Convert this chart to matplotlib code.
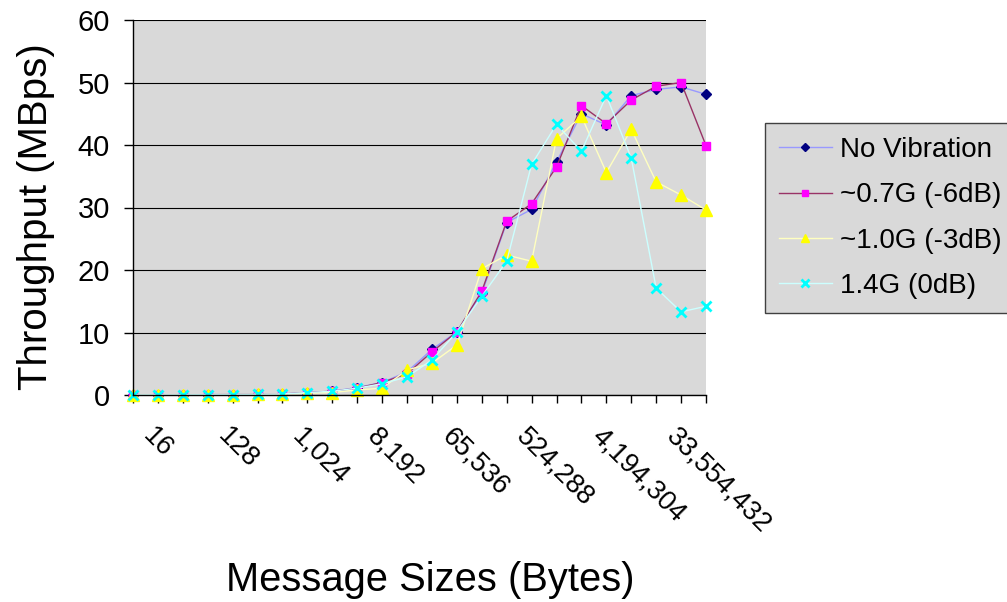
import matplotlib.pyplot as plt
from matplotlib.transforms import ScaledTranslation

plt.rcParams['font.family'] = ['Liberation Sans', 'DejaVu Sans']

# message sizes in bytes (one category per power of two)
msg_sizes = [16, 32, 64, 128, 256, 512, 1024, 2048, 4096, 8192, 16384, 32768,
             65536, 131072, 262144, 524288, 1048576, 2097152, 4194304,
             8388608, 16777216, 33554432, 67108864, 134217728]

# throughput in MBps for each vibration level
no_vib = [0.01, 0.02, 0.03, 0.05, 0.07, 0.1, 0.15, 0.4, 0.6, 1.2, 2.0, 3.7,
          7.3, 10.1, 16.3, 27.6, 29.7, 37.3, 45.0, 43.2, 47.9, 48.9, 49.3, 48.1]
g07 = [0.01, 0.02, 0.03, 0.05, 0.07, 0.1, 0.15, 0.4, 0.6, 1.1, 2.0, 3.4,
       6.9, 10.1, 16.6, 27.8, 30.6, 36.5, 46.3, 43.4, 47.2, 49.4, 50.0, 39.9]
g10 = [0.01, 0.02, 0.03, 0.05, 0.07, 0.1, 0.12, 0.3, 0.4, 0.8, 1.1, 4.0,
       5.1, 8.0, 20.2, 22.4, 21.4, 41.0, 44.6, 35.6, 42.5, 34.1, 32.0, 29.6]
g14 = [0.01, 0.02, 0.03, 0.05, 0.07, 0.1, 0.15, 0.4, 0.6, 1.1, 1.8, 2.9,
       5.6, 10.1, 15.8, 21.4, 36.9, 43.3, 39.0, 47.9, 37.9, 17.1, 13.3, 14.2]

series = [
    ('No Vibration', no_vib, '#9999FF', '#000080', 'D', 5.2),
    ('~0.7G (-6dB)', g07, '#993366', '#FF00FF', 's', 6.3),
    ('~1.0G (-3dB)', g10, '#FFFFC0', '#FFFF00', '^', 8),
    ('1.4G (0dB)', g14, '#CCFFFF', '#00FFFF', 'x', 7),
]

fig = plt.figure(figsize=(10.07, 6.02), dpi=100)
ax = fig.add_axes([133/1007, 1 - 395/602, 573/1007, 375/602])
ax.set_facecolor('#D9D9D9')

x = list(range(len(msg_sizes)))
for name, vals, lc, mc, m, ms in series:
    ax.plot(x, vals, color=lc, lw=1.0, marker=m, ms=ms, mfc=mc, mec=mc,
            mew=2 if m == 'x' else 1, label=name, clip_on=False)

ax.set_xlim(0, len(msg_sizes) - 1)
ax.set_ylim(0, 60)
ax.set_yticks(range(0, 61, 10))
ax.yaxis.grid(True, color='black', lw=0.8)
ax.set_axisbelow(True)

for s in ['top', 'right']:
    ax.spines[s].set_visible(False)
for s in ['left', 'bottom']:
    ax.spines[s].set_linewidth(1.0)

ax.set_xticks(x)
ax.set_xticklabels([f'{v:,}' if i % 3 == 0 else '' for i, v in enumerate(msg_sizes)],
                   rotation=-45, ha='left', va='center', rotation_mode='anchor')
ax.tick_params(axis='x', length=6, width=1, pad=21, labelsize=19.5)
ax.tick_params(axis='y', length=6.5, width=1, pad=10, labelsize=21)
shift = ScaledTranslation(0.14, 0, fig.dpi_scale_trans)
for lbl in ax.get_xticklabels():
    lbl.set_transform(lbl.get_transform() + shift)

ax.set_ylabel('Throughput (MBps)', fontsize=29, va='center')
ax.yaxis.set_label_coords(-0.169, 0.475)
ax.set_xlabel('Message Sizes (Bytes)', fontsize=28.7, va='center')
ax.xaxis.set_label_coords(0.518, -0.493)

leg = ax.legend(loc='upper left', bbox_to_anchor=(765/1007, 1 - 123/602),
                bbox_transform=fig.transFigure, fontsize=20, frameon=True,
                fancybox=False, facecolor='#D9D9D9', edgecolor='#404040',
                framealpha=1, borderpad=0.5, labelspacing=0.7,
                handlelength=1.9, handletextpad=0.3, markerscale=0.75,
                borderaxespad=0)
leg.get_frame().set_linewidth(1.0)

fig.savefig('out.png', dpi=100)
